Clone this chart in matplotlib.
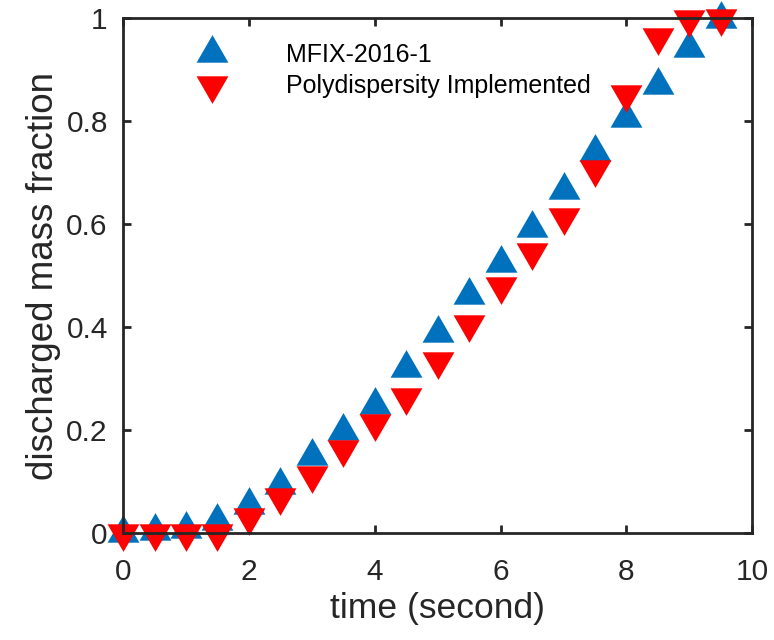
import numpy as np
import matplotlib
matplotlib.use("Agg")
import matplotlib.pyplot as plt

# time in seconds
time = [0, 0.5, 1, 1.5, 2, 2.5, 3, 3.5, 4, 4.5, 5, 5.5, 6, 6.5, 7, 7.5, 8, 8.5, 9, 9.5]
mfix = [0, 0.004, 0.008, 0.023, 0.054, 0.093, 0.15, 0.198, 0.249, 0.32,
        0.388, 0.462, 0.524, 0.592, 0.666, 0.74, 0.806, 0.87, 0.942, 0.998]
poly = [0, 0, 0, 0, 0.031, 0.07, 0.113, 0.163, 0.214, 0.264,
        0.334, 0.406, 0.48, 0.546, 0.614, 0.707, 0.852, 0.963, 0.998, 1.0]

plt.rcParams['font.family'] = ['Liberation Sans', 'DejaVu Sans']

# equilateral triangles centred on their centroid (like matlab markers)
h = np.sqrt(3)
tri_up = [(0, 2 * h / 3), (-1, -h / 3), (1, -h / 3), (0, 2 * h / 3)]
tri_down = [(0, -2 * h / 3), (-1, h / 3), (1, h / 3), (0, -2 * h / 3)]

fig = plt.figure(figsize=(7.74, 6.4), dpi=100)
ax = fig.add_axes([0.159, 0.167, 0.813, 0.805])

ax.plot(time, mfix, linestyle='none', marker=tri_up, markersize=26.5,
        color='#0072BD', markeredgewidth=0, clip_on=False, label='MFIX-2016-1')
ax.plot(time, poly, linestyle='none', marker=tri_down, markersize=26.5,
        color='#FF0000', markeredgewidth=0, clip_on=False, label='Polydispersity Implemented')

ax.set_xlim(0, 10)
ax.set_ylim(0, 1)
ax.set_xticks([0, 2, 4, 6, 8, 10])
ax.set_yticks([0, 0.2, 0.4, 0.6, 0.8, 1])
ax.set_yticklabels(['0', '0.2', '0.4', '0.6', '0.8', '1'])

for s in ax.spines.values():
    s.set_linewidth(2.0)
    s.set_color('#262626')
ax.tick_params(direction='in', length=6, width=2.0, color='#262626',
               top=True, right=True, labelsize=21.5, labelcolor='#262626')
ax.tick_params(axis='x', pad=18)
ax.tick_params(axis='y', pad=11)

ax.set_xlabel('time (second)', fontsize=25.5, color='#262626', labelpad=4)
ax.set_ylabel('discharged mass fraction', fontsize=26.5, color='#262626', labelpad=4)

ax.legend(loc='upper left', bbox_to_anchor=(0.066, 0.995), frameon=False, fontsize=18,
          handletextpad=1.95, labelspacing=0.3, markerscale=1.0)

fig.savefig('out.png', dpi=100)
